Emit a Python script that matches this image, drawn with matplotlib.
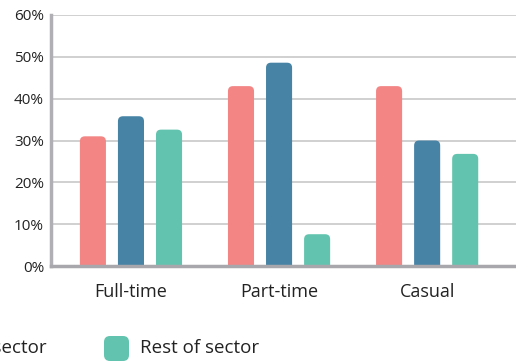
import matplotlib

matplotlib.use("Agg")
import matplotlib.pyplot as plt
from matplotlib.patches import FancyBboxPatch

plt.rcParams["font.family"] = ["Open Sans", "DejaVu Sans"]

categories = ["Full-time", "Part-time", "Casual"]
series_names = ["Health sector", "Community sector", "Rest of sector"]
series_values = [
    [31.0, 43.0, 43.0],
    [35.8, 48.6, 30.0],
    [32.6, 7.6, 26.8],
]
colors = ["#F38585", "#4683A5", "#62C4AE"]
y_ticks = [0, 10, 20, 30, 40, 50, 60]

W, H = 516, 361
fig = plt.figure(figsize=(W / 100, H / 100), dpi=100)
ax = fig.add_axes([51 / W, 95 / H, 1 - 51 / W, 251 / H])
ax.set_xlim(-0.54, 2.6)
ax.set_ylim(0, 60)

bar_w = 0.176
step = 0.257
px_x = 148.0          # pixels per x unit
px_y = 251 / 60.0     # pixels per y unit
r_px = 5.0
for s, (vals, col) in enumerate(zip(series_values, colors)):
    off = (s - 1) * step
    for i, v in enumerate(vals):
        x0 = i + off - bar_w / 2
        patch = FancyBboxPatch(
            (x0, -3), bar_w, v + 3,
            boxstyle=f"round,pad=0,rounding_size={r_px / px_x}",
            mutation_aspect=px_x / px_y,
            facecolor=col, edgecolor="none", zorder=3,
        )
        ax.add_patch(patch)

for t in y_ticks[1:]:
    ax.axhline(t, color="#c8c8c8", lw=1.2, zorder=1)

for side in ("top", "right"):
    ax.spines[side].set_visible(False)
ax.spines["left"].set_color("#b0b0b4")
ax.spines["left"].set_linewidth(2.5)
ax.spines["bottom"].set_color("#a8a8ac")
ax.spines["bottom"].set_linewidth(2.5)
ax.spines["bottom"].set_zorder(4)

ax.set_yticks(y_ticks)
ax.set_yticklabels([f"{t}%" for t in y_ticks], fontsize=11, color="#222222")
ax.set_xticks(range(len(categories)))
ax.set_xticklabels(categories, fontsize=13, color="#222222")
ax.tick_params(axis="y", length=0, pad=5)
ax.tick_params(axis="x", length=0, pad=12)

# legend at the bottom, wider than the figure so it runs off the left edge
ly = 13 / H
fig.text(47 / W, ly, series_names[1], ha="right", va="center", fontsize=13.5, color="#222222")
fig.text(140 / W, ly, series_names[2], ha="left", va="center", fontsize=13.5, color="#222222")
for xpx, col in [(-60, colors[1]), (104, colors[2])]:
    fig.patches.append(FancyBboxPatch(
        (xpx / W, 0 / H), 25 / W, 25 / H,
        boxstyle=f"round,pad=0,rounding_size={6 / W}",
        mutation_aspect=W / H,
        transform=fig.transFigure, facecolor=col, edgecolor="none",
    ))

fig.savefig("out.png", dpi=100)
